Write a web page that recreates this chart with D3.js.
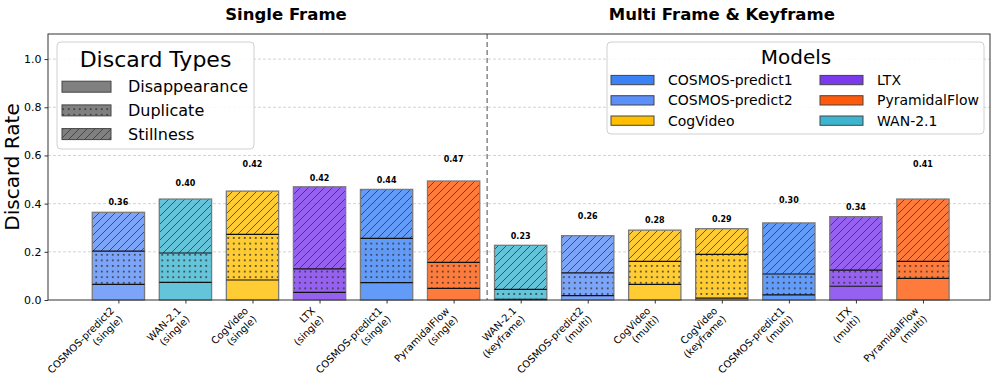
<!DOCTYPE html>
<html lang="en">
<head>
<meta charset="UTF-8"/>
<title>Discard Rate</title>
<script src="https://d3js.org/d3.v7.min.js"></script>
<style>
  body { margin: 0; background: #fff; }
  text { font-family: "DejaVu Sans", sans-serif; }
</style>
</head>
<body>
<script>
// data
var models = ["COSMOS-predict2", "WAN-2.1", "CogVideo", "LTX", "COSMOS-predict1", "PyramidalFlow",
              "WAN-2.1", "COSMOS-predict2", "CogVideo", "CogVideo", "COSMOS-predict1", "LTX", "PyramidalFlow"];
var modes = ["single", "single", "single", "single", "single", "single",
             "keyframe", "multi", "multi", "keyframe", "multi", "multi", "multi"];
var disappearance = [0.065, 0.073, 0.083, 0.032, 0.072, 0.048, 0.003, 0.018, 0.065, 0.008, 0.021, 0.057, 0.090];
var duplicate     = [0.138, 0.122, 0.189, 0.097, 0.184, 0.108, 0.041, 0.095, 0.095, 0.181, 0.087, 0.067, 0.070];
var stillness     = [0.161, 0.224, 0.180, 0.341, 0.203, 0.338, 0.183, 0.154, 0.130, 0.107, 0.212, 0.222, 0.259];
var rateLabels = ["0.36", "0.40", "0.42", "0.42", "0.44", "0.47", "0.23", "0.26", "0.28", "0.29", "0.30", "0.34", "0.41"];
var rateLabelAt = [0.404, 0.485, 0.564, 0.507, 0.498, 0.585, 0.266, 0.349, 0.331, 0.336, 0.415, 0.385, 0.564];
var yTicks = [0, 0.2, 0.4, 0.6, 0.8, 1.0];
var legendModels = ["COSMOS-predict1", "COSMOS-predict2", "CogVideo", "LTX", "PyramidalFlow", "WAN-2.1"];
var discardTypes = ["Disappearance", "Duplicate", "Stillness"];
var groupTitles = ["Single Frame", "Multi Frame & Keyframe"];

var modelColors = {
    "COSMOS-predict1": "#3b82f6",
    "COSMOS-predict2": "#5b8ff9",
    "CogVideo": "#ffbf00",
    "LTX": "#7c3aed",
    "PyramidalFlow": "#ff5a0a",
    "WAN-2.1": "#3db5cf"
};

var w = 997, h = 387;
var mLeft = 48, mRight = 990, mTop = 34, mBottom = 300;
var barW = 0.78;

var svg = d3.select("body").append("svg")
    .attr("width", w)
    .attr("height", h);

var defs = svg.append("defs");

// hatch patterns
var diag = defs.append("pattern")
    .attr("id", "diag")
    .attr("patternUnits", "userSpaceOnUse")
    .attr("width", 8).attr("height", 8);
diag.append("path")
    .attr("d", "M0,8 L8,0 M-2,2 L2,-2 M6,10 L10,6")
    .attr("stroke", "#333").attr("stroke-width", 0.9).attr("stroke-opacity", 0.85);

var dots = defs.append("pattern")
    .attr("id", "dots")
    .attr("patternUnits", "userSpaceOnUse")
    .attr("width", 5.5).attr("height", 5.6);
dots.append("rect")
    .attr("x", 1.9).attr("y", 1.9).attr("width", 1.7).attr("height", 1.7)
    .attr("fill", "#333").attr("fill-opacity", 0.9);

var hatchFor = { "Disappearance": null, "Duplicate": "url(#dots)", "Stillness": "url(#diag)" };

var x = d3.scaleLinear().domain([-1.05, 13.0]).range([mLeft, mRight]);
var y = d3.scaleLinear().domain([0, 1.1]).range([mBottom, 35]);

// grid
svg.append("g")
    .selectAll("line")
    .data(yTicks.filter(function(d) { return d > 0; }))
    .enter()
    .append("line")
    .attr("x1", mLeft).attr("x2", mRight)
    .attr("y1", function(d) { return y(d); })
    .attr("y2", function(d) { return y(d); })
    .attr("stroke", "#c8c8c8")
    .attr("stroke-width", 0.8)
    .attr("stroke-dasharray", "3,2");

// bars
var idx = d3.range(models.length);
var bars = svg.append("g").selectAll("g.bar")
    .data(idx)
    .enter()
    .append("g")
    .attr("class", "bar");

bars.each(function(i) {
    var g = d3.select(this);
    var x0 = x(i - barW / 2), bw = x(i + barW / 2) - x(i - barW / 2);
    var segs = [
        { type: "Disappearance", lo: 0, hi: disappearance[i] },
        { type: "Duplicate", lo: disappearance[i], hi: disappearance[i] + duplicate[i] },
        { type: "Stillness", lo: disappearance[i] + duplicate[i], hi: disappearance[i] + duplicate[i] + stillness[i] }
    ];
    segs.forEach(function(s) {
        g.append("rect")
            .attr("x", x0).attr("width", bw)
            .attr("y", y(s.hi)).attr("height", y(s.lo) - y(s.hi))
            .attr("fill", modelColors[models[i]])
            .attr("fill-opacity", 0.8);
        if (hatchFor[s.type]) {
            g.append("rect")
                .attr("x", x0).attr("width", bw)
                .attr("y", y(s.hi)).attr("height", y(s.lo) - y(s.hi))
                .attr("fill", hatchFor[s.type]);
        }
    });
    var total = segs[2].hi;
    g.append("rect")
        .attr("x", x0).attr("width", bw)
        .attr("y", y(total)).attr("height", y(0) - y(total))
        .attr("fill", "none")
        .attr("stroke", "#7a7a7a")
        .attr("stroke-width", 1.3);
    [segs[0].hi, segs[1].hi].forEach(function(v) {
        g.append("line")
            .attr("x1", x0).attr("x2", x0 + bw)
            .attr("y1", y(v)).attr("y2", y(v))
            .attr("stroke", "#111")
            .attr("stroke-width", 1.2);
    });
    g.append("text")
        .attr("x", x(i))
        .attr("y", y(rateLabelAt[i]))
        .attr("dy", "0.35em")
        .attr("text-anchor", "middle")
        .attr("font-size", "8px")
        .attr("font-weight", "bold")
        .text(rateLabels[i]);
});

// divider
svg.append("line")
    .attr("x1", x(5.5)).attr("x2", x(5.5))
    .attr("y1", mTop).attr("y2", mBottom)
    .attr("stroke", "#808080")
    .attr("stroke-width", 1.4)
    .attr("stroke-dasharray", "5,3");

// axes
var yAxis = d3.axisLeft(y)
    .tickValues(yTicks)
    .tickFormat(d3.format(".1f"))
    .tickSize(3.5)
    .tickPadding(3);
var yg = svg.append("g")
    .attr("transform", "translate(" + mLeft + ",0)")
    .call(yAxis);
yg.select(".domain").remove();
yg.selectAll("text").attr("font-size", "11px").attr("fill", "#000").attr("font-family", "DejaVu Sans");
yg.selectAll("line").attr("stroke", "#333");

var xAxis = d3.axisBottom(x)
    .tickValues(idx)
    .tickFormat("")
    .tickSize(3.5);
var xg = svg.append("g")
    .attr("transform", "translate(0," + mBottom + ")")
    .call(xAxis);
xg.select(".domain").remove();
xg.selectAll("line").attr("stroke", "#333");

svg.append("rect")
    .attr("x", mLeft).attr("y", mTop)
    .attr("width", mRight - mLeft).attr("height", mBottom - mTop)
    .attr("fill", "none")
    .attr("stroke", "#333")
    .attr("stroke-width", 1);

// x labels, rotated
var xl = svg.append("g").selectAll("g")
    .data(idx)
    .enter()
    .append("g")
    .attr("transform", function(i) { return "translate(" + (x(i) - 10) + "," + (mBottom + 5) + ") rotate(-45)"; });
xl.append("text")
    .attr("text-anchor", "end")
    .attr("y", 9)
    .attr("font-size", "10px")
    .text(function(i) { return models[i]; });
xl.append("text")
    .attr("text-anchor", "end")
    .attr("y", 21)
    .attr("font-size", "10px")
    .text(function(i) { return "(" + modes[i] + ")"; });

// y title
svg.append("text")
    .attr("transform", "rotate(-90)")
    .attr("x", -(mTop + mBottom) / 2)
    .attr("y", 19)
    .attr("text-anchor", "middle")
    .attr("font-size", "20px")
    .text("Discard Rate");

// group titles
svg.append("text")
    .attr("x", x(2.5)).attr("y", 20)
    .attr("text-anchor", "middle")
    .attr("font-size", "16.5px").attr("font-weight", "bold")
    .text(groupTitles[0]);
svg.append("text")
    .attr("x", x(9)).attr("y", 20)
    .attr("text-anchor", "middle")
    .attr("font-size", "16.5px").attr("font-weight", "bold")
    .text(groupTitles[1]);

// legend: discard types
var lg1 = svg.append("g");
lg1.append("rect")
    .attr("x", 57).attr("y", 42).attr("width", 197).attr("height", 107)
    .attr("rx", 4)
    .attr("fill", "#fff").attr("fill-opacity", 0.85)
    .attr("stroke", "#d0d0d0");
lg1.append("text")
    .attr("x", 155.5).attr("y", 67)
    .attr("text-anchor", "middle")
    .attr("font-size", "22px")
    .text("Discard Types");
discardTypes.forEach(function(t, k) {
    var cy = 86.7 + k * 23.7;
    lg1.append("rect")
        .attr("x", 62).attr("y", cy - 5.5).attr("width", 49).attr("height", 11)
        .attr("fill", "#808080");
    if (hatchFor[t]) {
        lg1.append("rect")
            .attr("x", 62).attr("y", cy - 5.5).attr("width", 49).attr("height", 11)
            .attr("fill", hatchFor[t]);
    }
    lg1.append("rect")
        .attr("x", 62).attr("y", cy - 5.5).attr("width", 49).attr("height", 11)
        .attr("fill", "none").attr("stroke", "#444").attr("stroke-width", 1);
    lg1.append("text")
        .attr("x", 128).attr("y", cy + 5.7)
        .attr("font-size", "16px")
        .text(t);
});

// legend: models
var lg2 = svg.append("g");
lg2.append("rect")
    .attr("x", 607).attr("y", 42).attr("width", 377).attr("height", 92)
    .attr("rx", 4)
    .attr("fill", "#fff").attr("fill-opacity", 0.85)
    .attr("stroke", "#d0d0d0");
lg2.append("text")
    .attr("x", 796).attr("y", 63.5)
    .attr("text-anchor", "middle")
    .attr("font-size", "20px")
    .text("Models");
legendModels.forEach(function(m, k) {
    var col = Math.floor(k / 3), row = k % 3;
    var sx = col === 0 ? 611 : 820;
    var cy = 80 + row * 20.3;
    lg2.append("rect")
        .attr("x", sx).attr("y", cy - 4.6).attr("width", 43).attr("height", 9.3)
        .attr("fill", modelColors[m])
        .attr("stroke", "#444").attr("stroke-width", 1);
    lg2.append("text")
        .attr("x", sx + 57).attr("y", cy + 5)
        .attr("font-size", "14px")
        .text(m);
});
</script>
</body>
</html>
